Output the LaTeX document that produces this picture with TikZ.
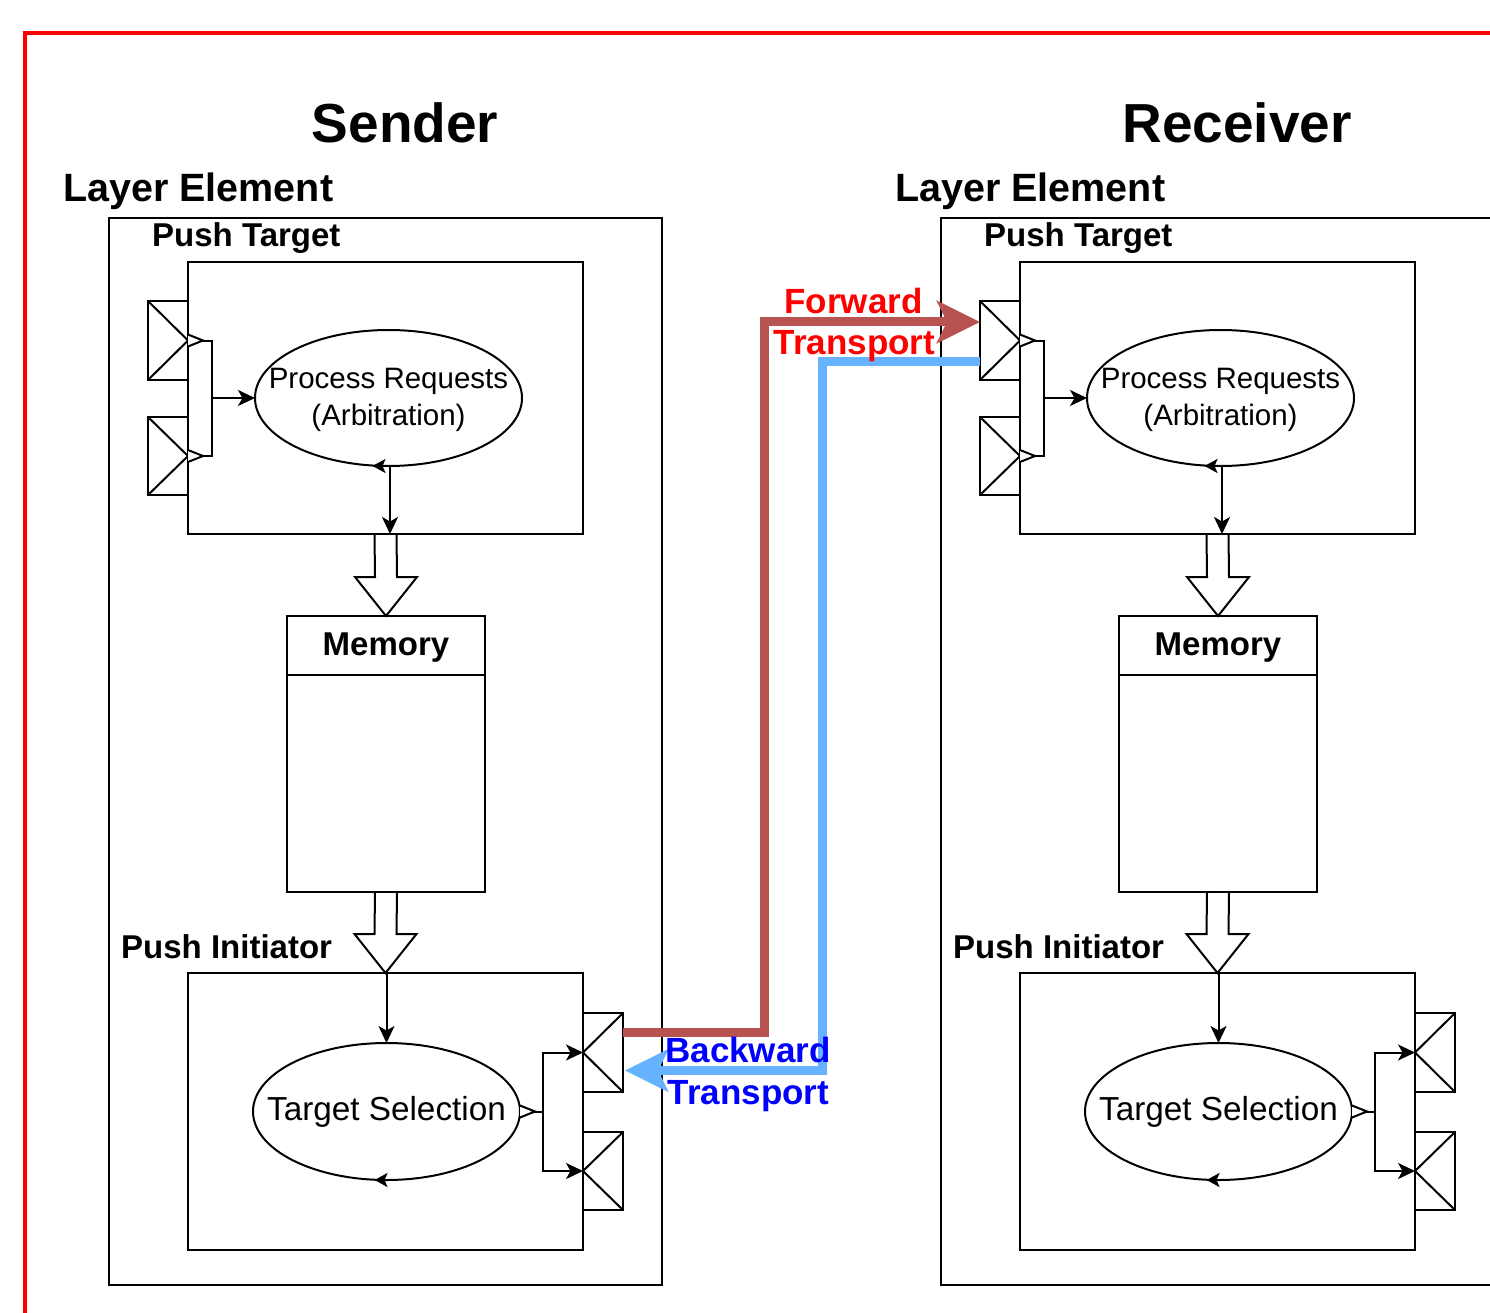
\documentclass[tikz,border=0pt]{standalone}
\usepackage{fontspec}
\setmainfont{Liberation Sans}
\usetikzlibrary{arrows.meta,calc,shapes.geometric}

\definecolor{fwdline}{HTML}{B85450}
\definecolor{bwdline}{HTML}{66B2FF}
\definecolor{fwdtext}{HTML}{FF0000}
\definecolor{bwdtext}{HTML}{0000FF}
\definecolor{framered}{HTML}{FF0000}

% small open triangle sitting on a boundary, pointing right
\newcommand\gatetri[1]{\draw[ln,fill=white] ($#1+(0,-6)$) -- ($#1+(15,0)$) -- ($#1+(0,6)$);}

\tikzset{
  ln/.style={line width=2pt, draw=black, line join=miter},
  box/.style={ln, rectangle, inner sep=0pt, outer sep=0pt},
  oval/.style={ln, ellipse, inner sep=0pt, outer sep=0pt},
  ovaltext/.style={inner sep=0pt, align=center},
  arr/.style={ln, -{Stealth[length=17pt,width=16pt,inset=4.5pt]}},
  looparr/.style={ln, -{Stealth[length=13pt,width=14pt,inset=3pt]}},
  title/.style={font=\bfseries\fontsize{55}{60}\selectfont, inner sep=0pt, anchor=base},
  heading/.style={font=\bfseries\fontsize{39.5}{44}\selectfont, inner sep=0pt},
  subhead/.style={font=\bfseries\fontsize{33}{38}\selectfont, inner sep=0pt},
  transportlab/.style={font=\bfseries\fontsize{35}{41}\selectfont, inner sep=0pt, anchor=base},
  transport/.style={line width=9pt, line join=miter,
    -{Stealth[length=43pt,width=42pt,inset=10pt]}},
  frame/.style={draw=framered, line width=4pt},
  pics/layer/.style={code={
    % headings
    \node[title] (-title) at (405,143) {#1};
    \node[heading, anchor=base west] (-lelab) at (63,202) {Layer Element};
    % layer element and its two blocks
    \node[box, minimum width=553pt, minimum height=1067pt] (-le) at (385.5,751.5) {};
    \node[box, minimum width=395pt, minimum height=272pt] (-pt) at (385.5,398) {};
    \node[subhead, anchor=base west] (-ptlab) at (152,247) {Push Target};
    \node[box, minimum width=395pt, minimum height=277pt] (-pin) at (385.5,1111.5) {};
    \node[subhead, anchor=base west] (-pinlab) at (121,958) {Push Initiator};
    % input ports
    \node[box, minimum width=40pt, minimum height=79pt] (-pi1) at (168,340.5) {};
    \node[box, minimum width=40pt, minimum height=78pt] (-pi2) at (168,456) {};
    \draw[ln] (-pi1.north west) -- (-pi1.east) -- (-pi1.south west);
    \draw[ln] (-pi2.north west) -- (-pi2.east) -- (-pi2.south west);
    % arbitration
    \node[oval, minimum width=267pt, minimum height=136pt] (-pr) at (388.5,398) {};
    \node[ovaltext, font=\fontsize{29.5}{37}\selectfont] (-prtext) at ([yshift=-1.5pt]-pr.center)
          {Process Requests\\(Arbitration)};
    \draw[ln] (-pi1.east) -- ++(24,0) |- (-pi2.east);
    \draw[arr] ([xshift=24pt]-pi1.east |- -pr.west) -- (-pr.west);
    \gatetri{(-pi1.east)}
    \gatetri{(-pi2.east)}
    \draw[looparr] ([xshift=2pt]-pr.south) -- ([xshift=-16pt]-pr.south);
    \draw[arr] ([xshift=1.5pt]-pr.south) -- ([xshift=1.5pt]-pr.south |- -pt.south);
    % memory
    \node[box, minimum width=198pt, minimum height=276pt] (-mem) at (386,754) {};
    \draw[ln] ([yshift=-59pt]-mem.north west) -- ([yshift=-59pt]-mem.north east);
    \node[subhead, anchor=base] (-memlab) at (386,655) {Memory};
    \draw[ln] ($(-pt.south)+(-11,0)$) -- ($(-mem.north)+(-11,-39)$)
      -- ($(-mem.north)+(-31,-39)$) -- (-mem.north) -- ($(-mem.north)+(31,-39)$)
      -- ($(-mem.north)+(11,-39)$) -- ($(-pt.south)+(11,0)$);
    \draw[ln] ($(-mem.south)+(-11,0)$) -- ($(-pin.north)+(-11,-39)$)
      -- ($(-pin.north)+(-31,-39)$) -- (-pin.north) -- ($(-pin.north)+(31,-39)$)
      -- ($(-pin.north)+(11,-39)$) -- ($(-mem.south)+(11,0)$);
    % target selection
    \node[oval, minimum width=267pt, minimum height=137pt] (-ts) at (386.5,1111.5) {};
    \node[ovaltext, font=\fontsize{33.3}{38}\selectfont] (-tstext) at (-ts.center)
          {Target Selection};
    \draw[arr] (-ts.north |- -pin.north) -- (-ts.north);
    \draw[looparr] ([xshift=2pt]-ts.south) -- ([xshift=-12pt]-ts.south);
    % output ports
    \node[box, minimum width=40pt, minimum height=79pt] (-po1) at (603,1052.5) {};
    \node[box, minimum width=40pt, minimum height=78pt] (-po2) at (603,1171) {};
    \draw[ln] (-po1.north east) -- (-po1.west) -- (-po1.south east);
    \draw[ln] (-po2.north east) -- (-po2.west) -- (-po2.south east);
    \draw[ln] (-ts.east) -- ++(23,0);
    \draw[arr] ([xshift=23pt]-ts.east) |- (-po1.west);
    \draw[arr] ([xshift=23pt]-ts.east) |- (-po2.west);
    \gatetri{(-ts.east)}
  }}
}

\begin{document}
\begin{tikzpicture}[x=1pt, y=-1pt]
  \useasboundingbox (0,0) rectangle (1490,1313);

  % outer frame
  \coordinate (frameBL) at (25,1330);
  \coordinate (frameTL) at (25,33);
  \coordinate (frameTR) at (1510,33);
  \draw[frame] (frameBL) -- (frameTL) -- (frameTR);

  \pic (S) at (0,0) {layer=Sender};
  \pic (R) at (832,0) {layer=Receiver};

  % transports between the two layer elements
  \draw[transport, draw=fwdline]
    ([yshift=20.5pt]S-po1.east) -- ++(141,0) |- ([yshift=18.5pt]R-pi1.west);
  \draw[transport, draw=bwdline]
    ([yshift=-20.5pt]R-pi1.west) -- ++(-158,0) |- ([yshift=-18pt,xshift=2pt]S-po1.east);

  \node[transportlab, text=fwdtext] (fwd1) at (853.5,313) {Forward};
  \node[transportlab, text=fwdtext] (fwd2) at (854.5,354) {Transport};
  \node[transportlab, text=bwdtext] (bwd1) at (748,1062) {Backward};
  \node[transportlab, text=bwdtext] (bwd2) at (748.5,1104) {Transport};
\end{tikzpicture}
\end{document}
